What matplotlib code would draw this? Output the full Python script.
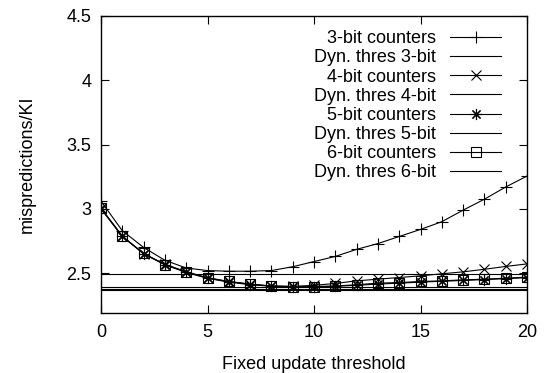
import matplotlib
matplotlib.use("Agg")
import matplotlib.pyplot as plt
import numpy as np

plt.rcParams['font.family'] = ['Liberation Sans', 'DejaVu Sans']

thresholds = list(range(21))
counters_3bit = [3.06, 2.83, 2.70, 2.60, 2.54, 2.52, 2.515, 2.515, 2.52, 2.55, 2.59,
                 2.63, 2.685, 2.73, 2.785, 2.84, 2.90, 2.99, 3.075, 3.17, 3.255]
counters_4bit = [3.005, 2.79, 2.65, 2.57, 2.51, 2.465, 2.435, 2.415, 2.40, 2.397, 2.405,
                 2.42, 2.44, 2.453, 2.466, 2.479, 2.495, 2.51, 2.53, 2.552, 2.572]
counters_5bit = [3.0, 2.785, 2.65, 2.565, 2.505, 2.46, 2.43, 2.41, 2.398, 2.394, 2.394,
                 2.398, 2.405, 2.415, 2.422, 2.43, 2.437, 2.443, 2.45, 2.457, 2.465]
counters_6bit = [3.005, 2.785, 2.655, 2.565, 2.51, 2.461, 2.435, 2.414, 2.40, 2.396, 2.396,
                 2.40, 2.41, 2.422, 2.427, 2.435, 2.44, 2.448, 2.453, 2.461, 2.469]
dyn_thres = {'3-bit': 2.49, '4-bit': 2.392, '5-bit': 2.38, '6-bit': 2.372}

counter_series = [
    ('3-bit counters', counters_3bit, '+', 9),
    ('4-bit counters', counters_4bit, 'x', 7),
    ('5-bit counters', counters_5bit, (8, 2, 0), 8),
    ('6-bit counters', counters_6bit, 's', 7),
]

FS = 13

fig = plt.figure(figsize=(5.52, 3.73), dpi=100)
ax = fig.add_axes([101 / 552, 1 - 313 / 373, 426 / 552, 297 / 373])

handles = []
for (label, ys, marker, ms), bits in zip(counter_series, dyn_thres):
    h1, = ax.plot(thresholds, ys, color='black', lw=0.8, marker=marker, ms=ms,
                  mew=0.8, mfc='none', label=label)
    h2 = ax.axhline(dyn_thres[bits], color='black', lw=0.8, label=f'Dyn. thres {bits}')
    handles += [h1, h2]

ax.set_xlim(0, 20)
ax.set_ylim(2.19, 4.5)
ax.set_xticks([0, 5, 10, 15, 20])
ax.set_yticks([2.5, 3, 3.5, 4, 4.5])
ax.set_yticklabels(['2.5', '3', '3.5', '4', '4.5'])
ax.tick_params(direction='in', length=6, width=0.8, top=True, right=True,
               labelsize=FS)
ax.tick_params(axis='y', pad=7)
ax.tick_params(axis='x', pad=8)
for s in ax.spines.values():
    s.set_linewidth(1.0)

ax.set_xlabel('Fixed update threshold', fontsize=FS)
ax.set_ylabel('mispredictions/KI', fontsize=FS)
ax.xaxis.label.set_va('baseline')
ax.xaxis.set_label_coords(0.5, -(369 - 313) / 297)
ax.yaxis.set_label_coords(-(101 - 36) / 426, 0.5)

leg = ax.legend(handles=handles, loc='upper right', markerfirst=False,
                frameon=False, fontsize=FS, handlelength=2.8, handletextpad=0.8,
                labelspacing=0.12, borderaxespad=0,
                bbox_to_anchor=(508 / 552, 1 - 23 / 373),
                bbox_transform=fig.transFigure)

fig.savefig('out.png', dpi=100)
